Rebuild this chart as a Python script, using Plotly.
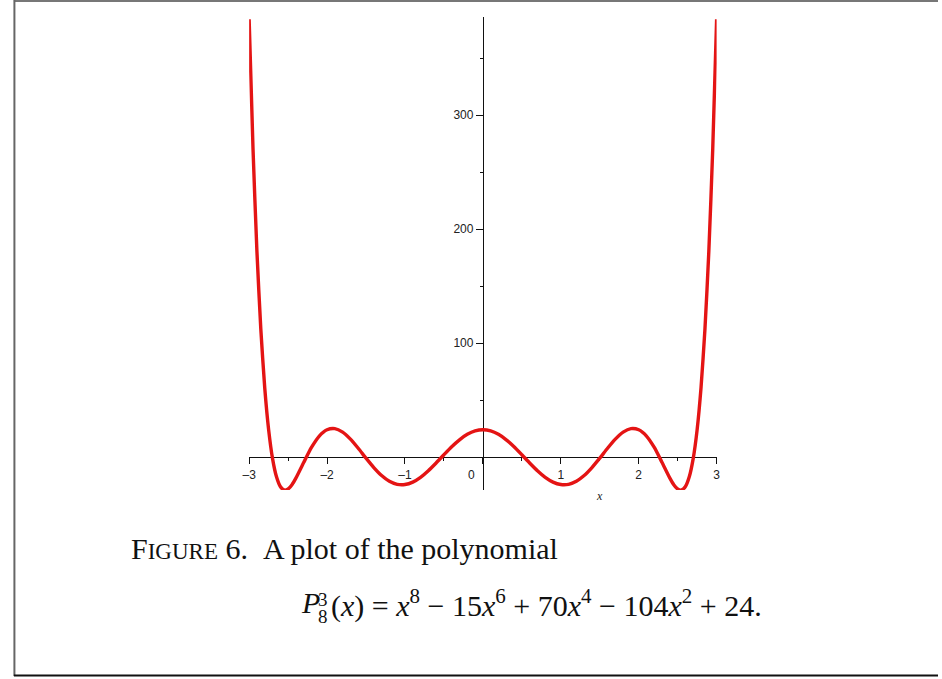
import plotly.graph_objects as go

# values of P_8^3(x)
x_vals = [-3.0, -2.95, -2.9, -2.85, -2.8, -2.75, -2.7, -2.65, -2.6, -2.55, -2.5, -2.45, -2.4,
          -2.3, -2.2, -2.1, -2.0, -1.9, -1.8, -1.7, -1.6, -1.5, -1.4, -1.3, -1.2, -1.1, -1.0,
          -0.9, -0.8, -0.7, -0.6, -0.5, -0.4, -0.3, -0.2, -0.1, 0.0,
          0.1, 0.2, 0.3, 0.4, 0.5, 0.6, 0.7, 0.8, 0.9, 1.0, 1.1, 1.2, 1.3, 1.4, 1.5, 1.6,
          1.7, 1.8, 1.9, 2.0, 2.1, 2.2, 2.3, 2.4, 2.45, 2.5, 2.55, 2.6, 2.65, 2.7, 2.75,
          2.8, 2.85, 2.9, 2.95, 3.0]
y_vals = [384.0, 269.8, 180.4, 112.0, 60.9, 24.1, -1.1, -17.0, -25.7, -28.8, -27.9, -24.1, -18.4,
          -4.7, 8.5, 18.5, 24.0, 25.0, 21.9, 15.8, 7.8, -0.9, -9.1, -16.1, -21.1, -23.8, -24.0,
          -21.9, -17.7, -11.9, -5.1, 2.1, 9.1, 15.2, 20.0, 23.0, 24.0,
          23.0, 20.0, 15.2, 9.1, 2.1, -5.1, -11.9, -17.7, -21.9, -24.0, -23.8, -21.1, -16.1,
          -9.1, -0.9, 7.8, 15.8, 21.9, 25.0, 24.0, 18.5, 8.5, -4.7, -18.4, -24.1, -27.9,
          -28.8, -25.7, -17.0, -1.1, 24.1, 60.9, 112.0, 180.4, 269.8, 384.0]

x_ticks = [-3, -2, -1, 0, 1, 2, 3]
x_labels = ["\u20133", "\u20132", "\u20131", "0" + "\u00a0" * 7, "1", "2", "3"]
x_minor = [-2.5, -1.5, -0.5, 0.5, 1.5, 2.5]
y_ticks = [100, 200, 300]
y_minor = [50, 150, 250, 350]

W, H = 942, 679
x_range = [-3.0, 3.0]
y_range = [-28.8, 386.0]
x_dom = [245 / W, 718 / W]
y_dom = [(H - 490) / H, (H - 17) / H]


def px(p):
    return p / W


def py(q):
    return 1 - q / H


# where the axes cross (0, 0), in paper units
x0_pos = x_dom[0] + (0 - x_range[0]) / (x_range[1] - x_range[0]) * (x_dom[1] - x_dom[0])
y0_pos = y_dom[0] + (0 - y_range[0]) / (y_range[1] - y_range[0]) * (y_dom[1] - y_dom[0])

fig = go.Figure()
fig.add_trace(go.Scatter(x=x_vals, y=y_vals, mode="lines",
                         line=dict(color="#e41414", width=3.4, shape="spline", smoothing=0.6),
                         hoverinfo="skip"))

tick_font = dict(family="Liberation Sans, Arial, sans-serif", size=12, color="#222")
fig.update_xaxes(range=x_range, domain=x_dom, anchor="free", position=y0_pos,
                 showgrid=False, zeroline=False, showline=True, linecolor="#111", linewidth=1,
                 tickmode="array", tickvals=x_ticks, ticktext=x_labels,
                 ticks="outside", ticklen=6, tickcolor="#111", tickfont=tick_font,
                 minor=dict(tickmode="array", tickvals=x_minor, ticks="outside",
                            ticklen=3, tickcolor="#111"),
                 layer="below traces")
fig.update_yaxes(range=y_range, domain=y_dom, anchor="free", position=x0_pos,
                 showgrid=False, zeroline=False, showline=True, linecolor="#111", linewidth=1,
                 tickmode="array", tickvals=y_ticks, ticktext=[str(v) for v in y_ticks],
                 ticks="outside", ticklen=7, tickcolor="#111", tickfont=tick_font,
                 minor=dict(tickmode="array", tickvals=y_minor, ticks="outside",
                            ticklen=3, tickcolor="#111"),
                 layer="below traces")

serif = "Liberation Serif, Times New Roman, serif"
cap_font = dict(family=serif, size=30, color="#111")
small = "<span style='font-size:23px'>"
fig.add_annotation(x=1.5, y=py(505), xref="x", yref="paper", text="<i>x</i>",
                   showarrow=False, font=dict(family=serif, size=12, color="#222"))
fig.add_annotation(x=px(123), y=py(567), xref="paper", yref="paper", xanchor="left",
                   text="F" + small + "IGURE</span> 6.\u00a0\u00a0A plot of the polynomial",
                   showarrow=False, font=cap_font)
fig.add_annotation(x=px(295), y=py(621), xref="paper", yref="paper", xanchor="left",
                   text="<i>P</i>", showarrow=False, font=cap_font)
fig.add_annotation(x=px(313), y=py(612), xref="paper", yref="paper", xanchor="left",
                   text="3", showarrow=False, font=dict(family=serif, size=19, color="#111"))
fig.add_annotation(x=px(313), y=py(629), xref="paper", yref="paper", xanchor="left",
                   text="8", showarrow=False, font=dict(family=serif, size=19, color="#111"))
fig.add_annotation(x=px(326), y=py(625), xref="paper", yref="paper", xanchor="left",
                   text="(<i>x</i>) = <i>x</i><sup>8</sup> \u2212 15<i>x</i><sup>6</sup> + "
                        "70<i>x</i><sup>4</sup> \u2212 104<i>x</i><sup>2</sup> + 24.",
                   showarrow=False, font=cap_font)

# page frame around the figure
fig.add_shape(type="line", xref="paper", yref="paper", x0=px(7), x1=1, y0=py(1), y1=py(1),
              line=dict(color="#777", width=2))
fig.add_shape(type="line", xref="paper", yref="paper", x0=px(7.5), x1=px(7.5), y0=py(0), y1=py(676),
              line=dict(color="#666", width=2))
fig.add_shape(type="line", xref="paper", yref="paper", x0=px(7), x1=1, y0=py(675.5), y1=py(675.5),
              line=dict(color="#111", width=2))

fig.update_layout(width=W, height=H, margin=dict(l=0, r=0, t=0, b=0),
                  paper_bgcolor="white", plot_bgcolor="white", showlegend=False)

fig.write_html("out.html", config={"displayModeBar": False},
               post_script="document.body.style.margin='0';document.body.style.overflow='hidden';")
